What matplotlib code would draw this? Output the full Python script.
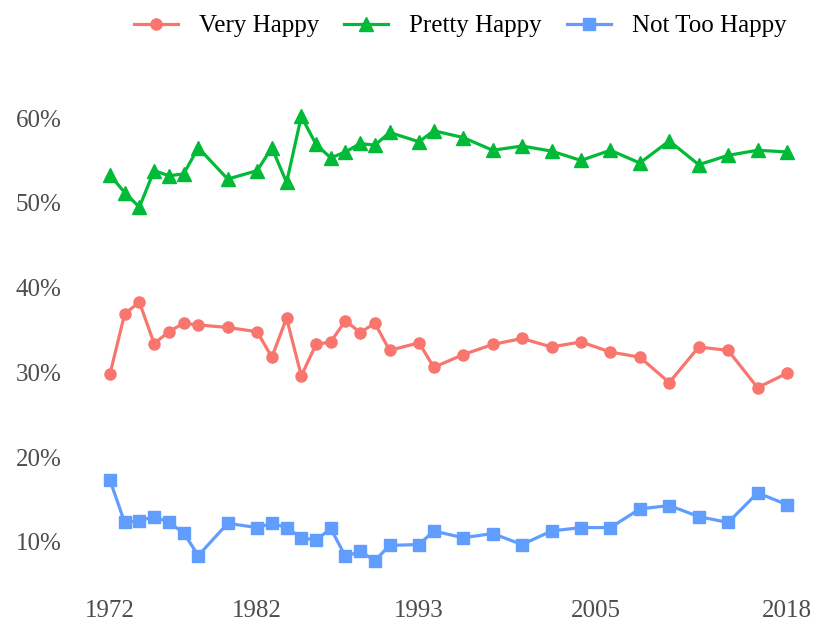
import matplotlib
matplotlib.use('Agg')
import matplotlib.pyplot as plt
from matplotlib.ticker import FuncFormatter

years = [1972, 1973, 1974, 1975, 1976, 1977, 1978, 1980, 1982, 1983, 1984,
         1985, 1986, 1987, 1988, 1989, 1990, 1991, 1993, 1994, 1996, 1998,
         2000, 2002, 2004, 2006, 2008, 2010, 2012, 2014, 2016, 2018]

very_happy = [29.8, 36.9, 38.3, 33.4, 34.8, 35.8, 35.6, 35.3, 34.8, 31.8, 36.4,
              29.6, 33.3, 33.6, 36.1, 34.7, 35.8, 32.6, 33.5, 30.6, 32.1, 33.3,
              34.0, 33.0, 33.6, 32.4, 31.8, 28.8, 33.0, 32.6, 28.2, 29.9]

pretty_happy = [53.3, 51.2, 49.5, 53.8, 53.2, 53.4, 56.5, 52.8, 53.8, 56.5, 52.4,
                60.2, 56.9, 55.3, 56.0, 57.0, 56.8, 58.3, 57.2, 58.5, 57.7, 56.2,
                56.7, 56.1, 55.0, 56.2, 54.7, 57.3, 54.5, 55.6, 56.2, 56.0]

not_too_happy = [17.3, 12.3, 12.5, 13.0, 12.3, 11.1, 8.4, 12.2, 11.7, 12.2, 11.7,
                 10.5, 10.2, 11.6, 8.3, 8.9, 7.8, 9.6, 9.7, 11.3, 10.5, 11.0,
                 9.7, 11.3, 11.7, 11.7, 13.9, 14.3, 13.0, 12.3, 15.8, 14.4]

x_ticks = [1972, 1982, 1993, 2005, 2018]
y_ticks = [10, 20, 30, 40, 50, 60]

plt.rcParams['font.family'] = ['Liberation Serif', 'DejaVu Serif']

fig = plt.figure(figsize=(8.19, 6.21), dpi=100)
ax = fig.add_axes([0.1073, 0.0726, 0.8806, 0.7578])

ax.plot(years, very_happy, color='#F8766D', marker='o', markersize=8,
        linewidth=2.3, label='Very Happy')
ax.plot(years, pretty_happy, color='#00BA38', marker='^', markersize=9.5,
        linewidth=2.3, label='Pretty Happy')
ax.plot(years, not_too_happy, color='#619CFF', marker='s', markersize=8,
        linewidth=2.3, label='Not Too Happy')

ax.set_xlim(1970.5, 2019.5)
ax.set_ylim(6, 61.5)
ax.set_xticks(x_ticks)
ax.set_yticks(y_ticks)
ax.yaxis.set_major_formatter(FuncFormatter(lambda v, p: f'{int(v)}%'))

for s in ax.spines.values():
    s.set_visible(False)
ax.tick_params(axis='both', length=0, labelsize=18, labelcolor='#4D4D4D')
ax.tick_params(axis='y', pad=19)
ax.tick_params(axis='x', pad=17)

fig.legend(loc='center', bbox_to_anchor=(0.562, 0.958), ncol=3, frameon=False,
           fontsize=18, handlelength=1.75, handletextpad=0.85, columnspacing=1.0)

plt.savefig('out.png', dpi=100)
